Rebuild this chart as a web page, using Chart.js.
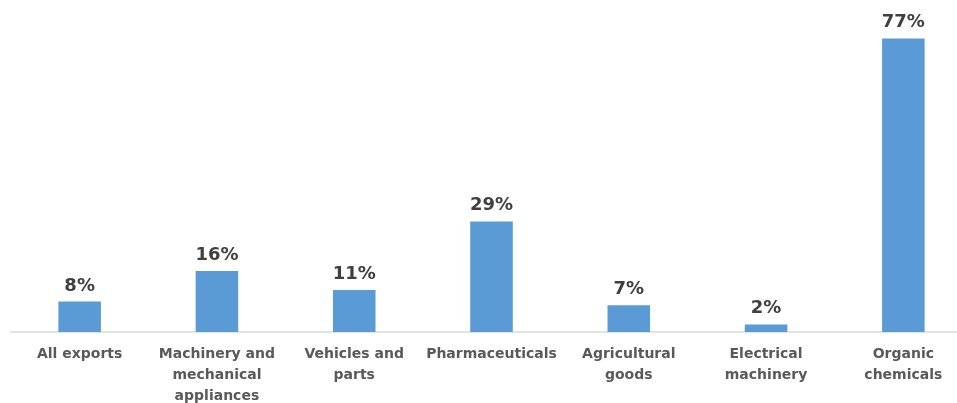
<!DOCTYPE html>
<html>
<head>
<meta charset="utf-8">
<script src="https://cdn.jsdelivr.net/npm/chart.js@4/dist/chart.umd.min.js"></script>
<style>
    html, body { margin: 0; padding: 0; background: #fff; overflow: hidden; }
    #wrap { width: 972px; height: 411px; position: relative; }
</style>
</head>
<body>
<div id="wrap"><canvas id="barChart"></canvas></div>
<script>
const categories = [
    'All exports',
    ['Machinery and', 'mechanical', 'appliances'],
    ['Vehicles and', 'parts'],
    'Pharmaceuticals',
    ['Agricultural', 'goods'],
    ['Electrical', 'machinery'],
    ['Organic', 'chemicals']
];
const shares = [8, 16, 11, 29, 7, 2, 77];

// writes the percentage above each bar
const valueLabels = {
    id: 'valueLabels',
    afterDatasetsDraw(chart) {
        const ctx = chart.ctx;
        const meta = chart.getDatasetMeta(0);
        ctx.save();
        ctx.font = 'bold 18px "DejaVu Sans"';
        ctx.fillStyle = '#404040';
        ctx.textAlign = 'center';
        ctx.textBaseline = 'alphabetic';
        meta.data.forEach((bar, i) => {
            ctx.fillText(shares[i] + '%', bar.x, bar.y - 11);
        });
        ctx.restore();
    }
};

new Chart(document.getElementById('barChart'), {
    type: 'bar',
    data: {
        labels: categories,
        datasets: [{
            data: shares,
            backgroundColor: '#5b9bd5',
            categoryPercentage: 1,
            barPercentage: 0.31
        }]
    },
    options: {
        responsive: true, maintainAspectRatio: false,
        animation: false,
        layout: { padding: { left: 11, right: 0, top: 27, bottom: 0 } },
        plugins: { legend: { display: false }, tooltip: { enabled: false } },
        scales: {
            x: {
                grid: { display: false },
                border: { color: '#e3e3e3', width: 2 },
                ticks: {
                    color: '#595959',
                    font: { family: 'DejaVu Sans', size: 14, weight: 'bold', lineHeight: 1.5 },
                    padding: 4,
                    maxRotation: 0,
                    autoSkip: false
                }
            },
            y: { display: false, min: 0, max: 80 }
        }
    },
    plugins: [valueLabels]
});
</script>
</body>
</html>
